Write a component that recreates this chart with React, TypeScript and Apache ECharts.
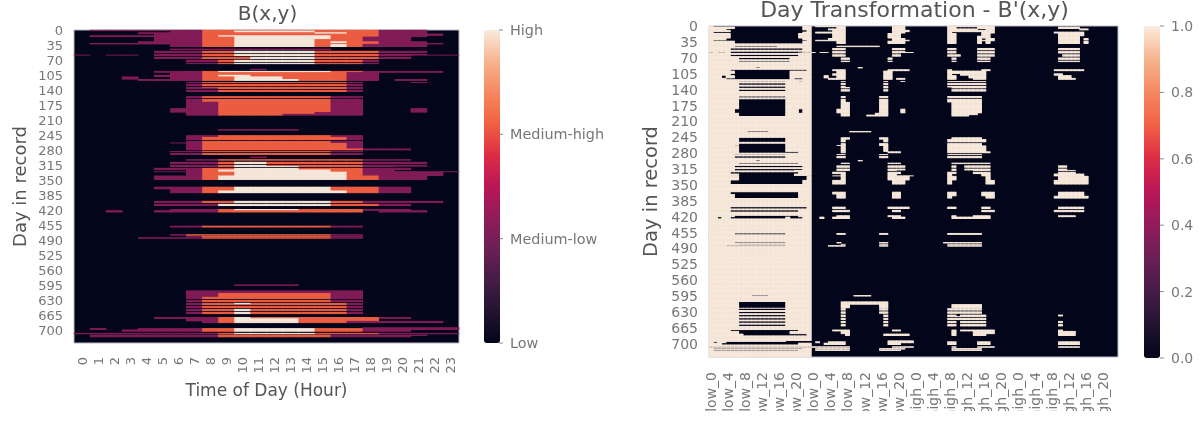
import React, { useEffect, useRef } from "react";
import * as echarts from "echarts";

const hours = Array.from({ length: 24 }, (_, i) => String(i));
const DAYS = 730;
const groups = ["low", "medium_low", "medium_high", "high"];
const levelNames = ["Low", "Medium-low", "Medium-high", "High"];
const levelValues = [0, 1.1, 2.1, 3];
const shareTicks = ["1.0", "0.8", "0.6", "0.4", "0.2", "0.0"];
const rocket = ["#03051a", "#221331", "#451c47", "#6a1f56", "#921c5b", "#b91657", "#dd2c45", "#f06043", "#f58860", "#f6b48e", "#faebdd"];

// [first day, last day + 1, "hourFrom-hourTo:level ...", weekly gap in the band]
const bands: [number, number, string, number?][] = [
  [0, 2, "1-7:1 8-18:2 19-21:1"],
  [2, 6, "6-7:1 8-9:2 10-14:3 15-18:2 19-21:1"],
  [6, 9, "4-7:1 8-14:2 15-16:3 17-18:2 19-21:1"],
  [9, 13, "5-7:1 8-18:2 19-22:1"],
  [13, 16, "1-7:1 8-8:2 9-15:3 16-18:2 19-21:1"],
  [16, 22, "5-7:1 8-9:2 10-15:3 16-17:2 18-20:1"],
  [22, 27, "5-7:1 8-9:2 10-14:3 15-17:2 18-20:1"],
  [27, 31, "4-7:1 8-9:2 10-14:3 15-15:2 16-16:3 17-18:2 19-21:1"],
  [31, 33, "1-7:1 8-9:2 10-14:3 15-18:2 19-22:1"],
  [33, 39, "6-7:1 8-9:2 10-14:3 15-15:2 16-16:3 17-17:2 18-21:1"],
  [44, 46, "6-15:1"],
  [49, 58, "5-7:1 8-9:2 10-14:3 15-18:2 19-21:1", 1],
  [58, 59, "0-0:1 2-3:1 5-7:1 8-9:2 10-14:3 15-18:2 19-23:1"],
  [59, 62, "5-7:1 8-9:2 10-14:3 15-18:2 19-20:1", 1],
  [62, 70, "5-7:1 8-10:2 11-14:3 15-18:2 19-20:1", 1],
  [70, 79, "7-8:1 9-9:2 10-14:3 15-17:2 18-18:1", 1],
  [91, 93, "11-11:1"],
  [96, 99, "5-7:1 8-8:2 9-15:3 16-17:2 18-22:1"],
  [99, 105, "6-7:1 8-16:2 17-18:1"],
  [105, 109, "5-7:1 8-8:2 9-10:3 11-16:2 17-18:1"],
  [109, 115, "3-3:1 6-7:1 8-9:2 10-12:3 13-16:2 17-18:1"],
  [115, 118, "4-7:1 8-9:2 10-13:3 14-16:2 17-18:1 20-21:1"],
  [122, 123, "7-7:1 8-16:2 17-17:1 21-21:1"],
  [123, 135, "7-7:1 8-16:2 17-17:1", 1],
  [135, 147, "7-8:1 9-16:2 17-17:1", 1],
  [155, 163, "7-7:1 8-15:2 16-17:1", 1],
  [163, 168, "7-7:1 8-15:2 16-17:1"],
  [168, 183, "7-8:1 9-15:2 16-17:1"],
  [183, 192, "6-8:1 9-15:2 16-17:1 21-21:1"],
  [192, 196, "7-8:1 9-14:2 15-17:1"],
  [196, 199, "7-8:1 9-12:2 13-17:1"],
  [232, 234, "9-13:1"],
  [246, 250, "7-8:1 9-15:2 16-17:1"],
  [250, 256, "7-7:1 8-16:2 17-17:1"],
  [256, 263, "7-7:1 8-15:2 16-16:1 17-17:1", 1],
  [263, 264, "6-7:1 8-15:2 16-17:1"],
  [264, 277, "7-7:1 8-16:2 17-17:1"],
  [277, 280, "7-7:1 8-17:2 18-20:1"],
  [283, 293, "6-7:1 8-15:2 16-17:1", 1],
  [296, 298, "11-11:1"],
  [302, 304, "7-8:1 9-17:2 18-20:1"],
  [308, 318, "6-8:1 9-9:2 10-11:3 12-17:2 18-21:1", 1],
  [318, 322, "6-8:1 9-9:2 10-13:3 14-17:2 18-19:1", 1],
  [322, 326, "5-7:1 8-9:2 10-13:3 14-17:2 18-20:1"],
  [326, 330, "7-7:1 8-8:2 9-15:3 16-17:2 18-19:1"],
  [330, 331, "5-7:1 8-8:2 9-15:3 16-17:2 18-23:1"],
  [331, 340, "7-7:1 8-9:2 10-16:3 17-17:2 18-22:1"],
  [340, 349, "5-7:1 8-8:2 9-16:3 17-18:2 19-21:1"],
  [366, 371, "5-7:1 8-9:2 10-15:3 16-18:2 19-20:1"],
  [371, 375, "6-7:1 8-9:2 10-15:3 16-18:2 19-20:1"],
  [375, 380, "6-7:1 8-8:2 9-9:3 10-15:3 16-16:3 17-18:2 19-20:1"],
  [399, 404, "5-7:1 8-9:2 10-15:3 16-17:2 18-22:1", 1],
  [404, 410, "5-8:1 9-15:3 16-18:2 19-20:1", 1],
  [418, 421, "6-8:1 9-9:2 10-13:3 14-17:2 18-20:1"],
  [421, 425, "2-2:1 5-8:1 9-17:2 19-21:1"],
  [457, 460, "6-7:1 8-15:2 16-17:1"],
  [477, 479, "6-6:1 7-15:2 16-17:1"],
  [481, 482, "7-7:1 8-15:2 16-17:1"],
  [484, 486, "4-7:1 8-15:2 16-17:1"],
  [594, 596, "10-13:1"],
  [608, 614, "7-17:1"],
  [614, 622, "7-8:1 9-15:2 16-17:1"],
  [622, 636, "7-7:1 8-15:2 16-17:1", 1],
  [636, 640, "7-7:1 8-9:2 10-10:3 11-16:2 17-17:1", 1],
  [640, 648, "7-7:1 8-16:2 17-17:1", 1],
  [648, 662, "7-7:1 8-9:2 10-10:3 11-16:2 17-17:1", 1],
  [670, 673, "5-8:1 9-9:2 10-10:3 11-18:2 19-20:1"],
  [673, 679, "7-8:1 9-9:2 10-13:3 14-18:2"],
  [679, 683, "8-8:1 9-9:2 10-13:3 14-16:2 17-22:1"],
  [694, 696, "18-23:1"],
  [696, 699, "1-1:1 4-7:1 8-9:2 10-14:3 15-17:2 18-23:1"],
  [699, 703, "3-7:1 8-9:2 10-14:3 15-17:2 18-20:1"],
  [707, 709, "0-8:1 9-9:2 10-14:3 15-18:2 19-23:1"],
  [711, 713, "1-8:1 9-15:2 16-21:1"],
  [714, 716, "1-8:1 9-15:2 16-20:1"],
];

const rowLevels: number[][] = Array.from({ length: DAYS }, () => new Array(24).fill(0));
bands.forEach(([from, to, runs, gap]) => {
  for (let d = from; d < to; d++) {
    if (gap && d % 7 >= 4) continue;
    runs.split(" ").forEach((run) => {
      const [span, level] = run.split(":");
      const [a, b] = span.split("-").map(Number);
      for (let h = a; h <= b; h++) rowLevels[d][h] = Number(level);
    });
  }
});

const dayLabels = Array.from({ length: DAYS }, (_, i) => String(i));
const encodedColumns = groups.flatMap((g) => hours.map((h) => `${g}_${h}`));

const levelCells: number[][] = [];
const encodedCells: number[][] = [];
rowLevels.forEach((row, d) =>
  row.forEach((level, h) => {
    if (level > 0) levelCells.push([h, d, levelValues[level]]);
    encodedCells.push([level * 24 + h, d, 1]);
  })
);

const TICK = "#777777";
const TEXT = "#555555";
const FONT = "DejaVu Sans";

const L = { left: 74, top: 30, width: 385, height: 313 };
const R = { left: 709, top: 26, width: 409, height: 331 };

function barTicks(labels: string[], x: number, top: number, height: number, size: number) {
  const out: any[] = [];
  labels.forEach((label, i) => {
    const y = top + (height * i) / (labels.length - 1);
    out.push({ type: "line", silent: true, shape: { x1: x, y1: y, x2: x + 4, y2: y }, style: { stroke: "#888888", lineWidth: 1 } });
    out.push({ type: "text", silent: true, x: x + 11, y, style: { text: label, fill: TICK, font: `${size}px "${FONT}"`, verticalAlign: "middle" } });
  });
  return out;
}

export default function App() {
  const ref = useRef<HTMLDivElement>(null);
  useEffect(() => {
    document.body.style.margin = "0";
    const chart = echarts.init(ref.current!, undefined, { renderer: "svg", width: 1201, height: 411 });
    const axisCommon = {
      type: "category" as const,
      axisLine: { show: false },
      axisTick: { show: false },
      splitLine: { show: false },
      splitArea: { show: false },
    };
    const labelStyle = { color: TICK, fontFamily: FONT, fontSize: 13 };
    const labelStyleR = { ...labelStyle, fontSize: 14 };
    chart.setOption({
      animation: false,
      backgroundColor: "#ffffff",
      textStyle: { fontFamily: FONT },
      title: [
        { text: "B(x,y)", left: L.left + L.width / 2 - 4, top: -2, textAlign: "center", textStyle: { color: TEXT, fontFamily: FONT, fontSize: 20, fontWeight: "normal" } },
        { text: "Day Transformation - B'(x,y)", left: R.left + R.width / 2 - 4, top: -7, textAlign: "center", textStyle: { color: TEXT, fontFamily: FONT, fontSize: 22, fontWeight: "normal" } },
      ],
      grid: [
        { ...L, show: true, outerBoundsMode: "none", containLabel: false, backgroundColor: rocket[0], borderColor: "#b8b8c4", borderWidth: 1 },
        { ...R, show: true, outerBoundsMode: "none", containLabel: false, backgroundColor: rocket[0], borderColor: "#b8b8c4", borderWidth: 1 },
      ],
      xAxis: [
        { ...axisCommon, gridIndex: 0, data: hours, name: "Time of Day (Hour)", nameLocation: "middle", nameGap: 34, nameTextStyle: { color: TEXT, fontFamily: FONT, fontSize: 17 }, axisLabel: { ...labelStyle, rotate: 90, interval: 0, margin: 14 } },
        { ...axisCommon, gridIndex: 1, data: encodedColumns, axisLabel: { ...labelStyleR, rotate: 90, interval: 3, margin: 15, hideOverlap: false } },
      ],
      yAxis: [
        { ...axisCommon, gridIndex: 0, data: dayLabels, inverse: true, name: "Day in record", nameLocation: "middle", nameGap: 46, nameTextStyle: { color: TEXT, fontFamily: FONT, fontSize: 18 }, axisLabel: { ...labelStyle, interval: 34, margin: 11 } },
        { ...axisCommon, gridIndex: 1, data: dayLabels, inverse: true, name: "Day in record", nameLocation: "middle", nameGap: 49, nameTextStyle: { color: TEXT, fontFamily: FONT, fontSize: 19.5 }, axisLabel: { ...labelStyleR, interval: 34, margin: 11 } },
      ],
      visualMap: [
        { type: "continuous", seriesIndex: 0, min: 0, max: 3, show: true, orient: "vertical", left: 484, top: 30, padding: 0, itemWidth: 16, itemHeight: 313, text: ["", ""], calculable: false, hoverLink: false, inRange: { color: rocket }, showLabel: false },
        { type: "continuous", seriesIndex: 1, min: 0, max: 1, show: true, orient: "vertical", left: 1144, top: 26, padding: 0, itemWidth: 16, itemHeight: 332, text: ["", ""], calculable: false, hoverLink: false, inRange: { color: rocket }, showLabel: false },
      ],
      series: [
        { type: "heatmap", xAxisIndex: 0, yAxisIndex: 0, data: levelCells, silent: true, progressive: 0, itemStyle: { borderWidth: 0 } },
        { type: "heatmap", xAxisIndex: 1, yAxisIndex: 1, data: encodedCells, silent: true, progressive: 0, itemStyle: { borderWidth: 0 } },
      ],
      graphic: [...barTicks([...levelNames].reverse(), 499, 30, 313, 14.4), ...barTicks(shareTicks, 1160, 26, 332, 14)],
    });
    return () => chart.dispose();
  }, []);
  return (
    <div style={{ position: "fixed", left: 0, top: 0, width: 1201, height: 422, overflow: "hidden", background: "#fff" }}>
      <div ref={ref} style={{ width: 1201, height: 411, filter: "blur(0.45px)" }} />
    </div>
  );
}
